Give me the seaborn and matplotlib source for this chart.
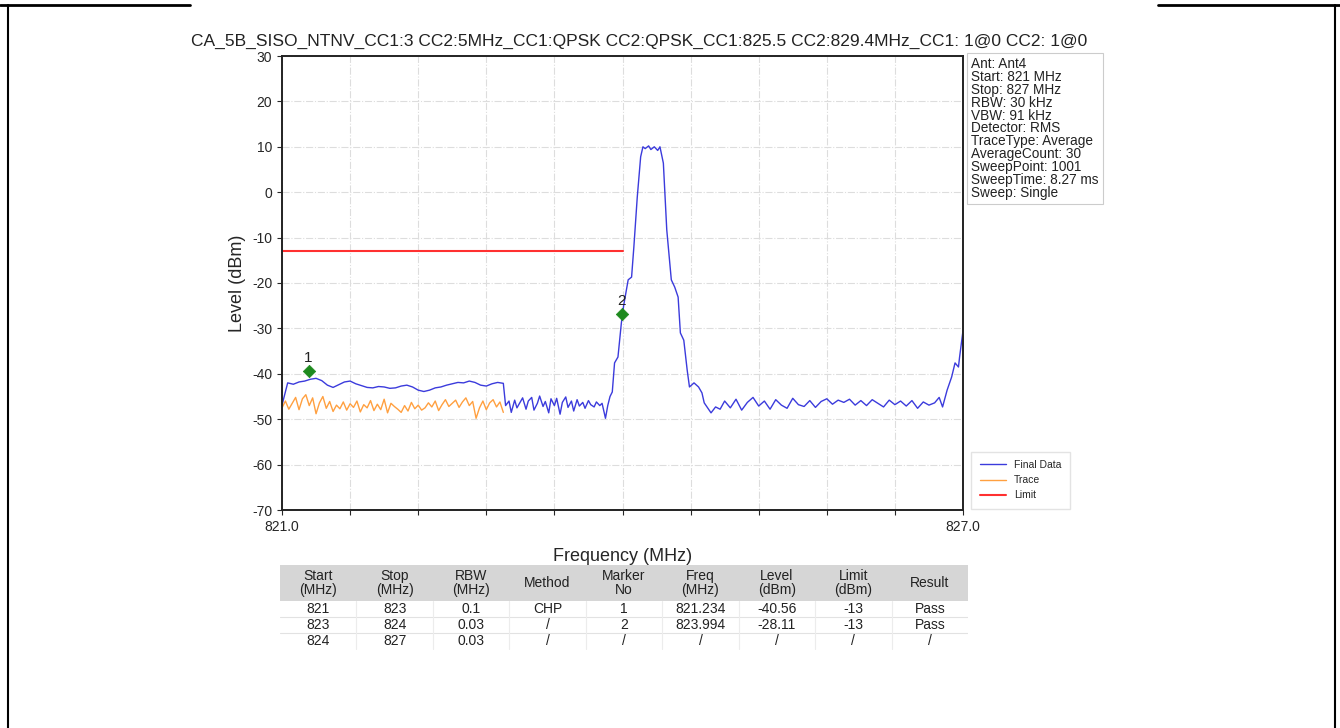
import numpy as np
import pandas as pd
import matplotlib
matplotlib.use("Agg")
import matplotlib.pyplot as plt
from matplotlib.lines import Line2D
from matplotlib.patches import Rectangle
import seaborn as sns

# ---- data ----
final_freq = [821.00, 821.03, 821.05, 821.10, 821.15, 821.20, 821.25, 821.30, 821.35, 821.40,
              821.45, 821.50, 821.55, 821.60, 821.65, 821.70, 821.75, 821.80, 821.85, 821.90,
              821.95, 822.00, 822.05, 822.10, 822.15, 822.20, 822.25, 822.30, 822.35, 822.40,
              822.45, 822.50, 822.55, 822.60, 822.65, 822.70, 822.75, 822.80, 822.85, 822.90,
              822.95, 822.97,
              823.00, 823.02, 823.05, 823.07, 823.10, 823.12, 823.15, 823.17, 823.20, 823.22,
              823.25, 823.27, 823.30, 823.32, 823.35, 823.37, 823.40, 823.42, 823.45, 823.47,
              823.50, 823.52, 823.55, 823.57, 823.60, 823.62, 823.65, 823.67, 823.70, 823.72,
              823.75, 823.77, 823.80, 823.82, 823.85, 823.87,
              823.89, 823.91, 823.93, 823.96, 823.99, 824.01, 824.03, 824.05, 824.08, 824.10,
              824.13, 824.16, 824.18, 824.20, 824.23, 824.25, 824.28, 824.31, 824.33, 824.36,
              824.39, 824.43, 824.46, 824.49, 824.51, 824.54, 824.57, 824.59, 824.63, 824.67,
              824.70, 824.72, 824.78, 824.82, 824.86,
              824.90, 824.95, 825.00, 825.05, 825.10, 825.15, 825.20, 825.25, 825.30, 825.35,
              825.40, 825.45, 825.50, 825.55, 825.60, 825.65, 825.70, 825.75, 825.80, 825.85,
              825.90, 825.95, 826.00, 826.05, 826.10, 826.15, 826.20, 826.25, 826.30, 826.35,
              826.40, 826.45, 826.50, 826.55, 826.60, 826.65, 826.70, 826.75, 826.79, 826.82,
              826.86, 826.90, 826.93, 826.96, 826.97, 827.00]
final_level = [-46.9, -44.0, -42.0, -42.3, -41.8, -41.6, -41.2, -41.0, -41.5, -42.5,
               -43.0, -42.4, -41.8, -41.6, -42.2, -42.6, -43.0, -43.1, -42.8, -42.9,
               -43.2, -43.1, -42.7, -42.5, -42.9, -43.6, -43.9, -43.6, -43.1, -42.9,
               -42.5, -42.2, -41.9, -42.0, -41.6, -41.9, -42.5, -42.7, -42.2, -41.9,
               -42.1, -47.0,
               -46.0, -48.5, -45.8, -47.5, -46.2, -45.3, -47.8, -46.0, -45.2, -48.0,
               -46.5, -44.9, -47.2, -46.1, -48.6, -45.5, -47.0, -45.4, -48.9, -46.3,
               -45.1, -47.4, -46.0, -48.2, -45.7, -47.1, -46.3, -47.6, -45.9, -46.8,
               -47.3, -46.2, -47.0, -46.5, -49.8, -47.0,
               -45.0, -44.0, -37.6, -36.3, -28.8, -25.0, -22.2, -19.3, -18.7, -12.1,
               -1.1, 7.8, 10.0, 9.6, 10.2, 9.4, 10.0, 9.2, 10.0, 6.4,
               -8.3, -19.3, -20.9, -23.1, -31.0, -32.6, -39.2, -42.9, -42.0, -42.9,
               -44.2, -46.4, -48.6, -47.3, -47.8,
               -46.0, -47.5, -45.6, -48.0, -46.3, -45.2, -47.1, -46.0, -47.8, -45.7,
               -46.9, -47.6, -45.4, -46.8, -47.2, -45.9, -47.4, -46.1, -45.5, -46.7,
               -45.8, -46.3, -45.6, -46.9, -45.9, -47.0, -45.7, -46.5, -47.3, -45.8,
               -46.8, -46.0, -47.1, -45.9, -47.6, -46.2, -46.9, -46.4, -45.2, -47.3,
               -43.6, -40.7, -37.6, -38.5, -36.3, -30.5]

trace_freq = [821.00, 821.03, 821.06, 821.09, 821.12, 821.15, 821.18, 821.21, 821.24, 821.27,
              821.30, 821.33, 821.36, 821.39, 821.42, 821.45, 821.48, 821.51, 821.54, 821.57,
              821.60, 821.63, 821.66, 821.69, 821.72, 821.75, 821.78, 821.81, 821.84, 821.87,
              821.90, 821.93, 821.96, 821.99, 822.02, 822.05, 822.08, 822.11, 822.14, 822.17,
              822.20, 822.23, 822.26, 822.29, 822.32, 822.35, 822.38, 822.41, 822.44, 822.47,
              822.50, 822.53, 822.56, 822.59, 822.62, 822.65, 822.68, 822.71, 822.74, 822.77,
              822.80, 822.83, 822.86, 822.89, 822.92, 822.95]
trace_level = [-47.5, -46.0, -47.8, -46.5, -45.2, -47.9, -45.5, -44.6, -47.0, -45.3,
               -48.8, -46.4, -45.0, -47.6, -46.1, -48.3, -46.9, -47.7, -46.2, -48.0,
               -46.6, -47.4, -46.0, -48.4, -46.8, -47.5, -45.9, -48.1, -46.7, -47.9,
               -45.6, -48.6, -46.5, -47.2, -47.8, -48.5, -47.0, -48.2, -46.3, -47.7,
               -46.9, -48.0, -47.5, -46.4, -47.3, -46.0, -48.1, -46.8, -45.7, -47.2,
               -46.5, -45.8, -47.4, -46.2, -45.3, -47.0, -46.1, -49.8, -47.5, -46.0,
               -47.9, -46.4, -45.7, -47.3, -46.2, -48.5]

limit_freq = [821.0, 824.0]
limit_level = [-13.0, -13.0]

marker_no = ["1", "2"]
marker_freq = [821.234, 823.994]
marker_level = [-39.3, -26.8]

title = ("CA_5B_SISO_NTNV_CC1:3 CC2:5MHz_CC1:QPSK CC2:QPSK_CC1:825.5 "
         "CC2:829.4MHz_CC1: 1@0 CC2: 1@0")

info_lines = ["Ant: Ant4", "Start: 821 MHz", "Stop: 827 MHz", "RBW: 30 kHz", "VBW: 91 kHz",
              "Detector: RMS", "TraceType: Average", "AverageCount: 30", "SweepPoint: 1001",
              "SweepTime: 8.27 ms", "Sweep: Single"]

table_header = ["Start\n(MHz)", "Stop\n(MHz)", "RBW\n(MHz)", "Method", "Marker\nNo",
                "Freq\n(MHz)", "Level\n(dBm)", "Limit\n(dBm)", "Result"]
table_rows = [["821", "823", "0.1", "CHP", "1", "821.234", "-40.56", "-13", "Pass"],
              ["823", "824", "0.03", "/", "2", "823.994", "-28.11", "-13", "Pass"],
              ["824", "827", "0.03", "/", "/", "/", "/", "/", "/"]]

# ---- figure ----
sns.set_style("ticks")
plt.rcParams['font.family'] = ['Liberation Sans', 'DejaVu Sans']
plt.rcParams['axes.unicode_minus'] = False

fig = plt.figure(figsize=(13.4, 7.28), dpi=100)
ax = fig.add_axes([282 / 1340, 1 - 510 / 728, (963 - 282) / 1340, (510 - 56) / 728])

final_df = pd.DataFrame({"freq": final_freq, "level": final_level})
trace_df = pd.DataFrame({"freq": trace_freq, "level": trace_level})
limit_df = pd.DataFrame({"freq": limit_freq, "level": limit_level})
marker_df = pd.DataFrame({"freq": marker_freq, "level": marker_level, "no": marker_no})

sns.lineplot(data=final_df, x="freq", y="level", ax=ax, color="#3b3bdc", lw=1.0,
             label="Final Data", sort=False)
sns.lineplot(data=trace_df, x="freq", y="level", ax=ax, color="#ffa040", lw=1.0,
             label="Trace", sort=False)
sns.lineplot(data=limit_df, x="freq", y="level", ax=ax, color="#ff3030", lw=1.5,
             label="Limit", sort=False)
sns.scatterplot(data=marker_df, x="freq", y="level", ax=ax, marker="D", s=40,
                color="#1e8a1e", edgecolor="#1e8a1e", zorder=5, legend=False)
for _, r in marker_df.iterrows():
    ax.text(r["freq"], r["level"] + 1.3, r["no"], ha="center", va="bottom", fontsize=11,
            color="#222222")

ax.set_xlim(821.0, 827.0)
ax.set_ylim(-70, 30)
xt = np.linspace(821.0, 827.0, 11)
ax.set_xticks(xt)
ax.set_xticklabels(["821.0"] + [""] * 9 + ["827.0"], fontsize=10)
ax.set_yticks(np.arange(-70, 31, 10))
ax.tick_params(axis="y", labelsize=10)
ax.grid(True, color="#dddddd", lw=0.8, ls="-.")
for s in ax.spines.values():
    s.set_visible(True)
    s.set_linewidth(1.4)
    s.set_color("#222222")
ax.set_xlabel("Frequency (MHz)", fontsize=13, labelpad=10)
ax.set_ylabel("Level (dBm)", fontsize=13)
fig.text(639 / 1340, 1 - 41 / 728, title, fontsize=12.5, ha="center", va="center",
         color="#222222")

leg = ax.get_legend()
leg.remove()
handles, labels = ax.get_legend_handles_labels()
fig.legend(handles[:3], labels[:3], loc="lower left", bbox_to_anchor=(966 / 1340, 1 - 514 / 728),
           fontsize=7.5, frameon=True, edgecolor="#dddddd", fancybox=False, handlelength=2.5,
           borderpad=0.8)

fig.text(971 / 1340, 1 - 57 / 728, "\n".join(info_lines), fontsize=9.8, va="top", ha="left",
         linespacing=0.9, color="#222222",
         bbox=dict(boxstyle="square,pad=0.3", facecolor="white", edgecolor="#cccccc", lw=0.8))

# ---- table ----
tab = fig.add_axes([280 / 1340, 1 - 650 / 728, (968 - 280) / 1340, (650 - 565) / 728])
tab.set_xlim(0, 9)
tab.set_ylim(85, 0)
tab.axis("off")
tab.add_patch(Rectangle((0, 0), 9, 36, facecolor="#d6d6d6", edgecolor="none"))
for i, h in enumerate(table_header):
    tab.text(i + 0.5, 18, h, ha="center", va="center", fontsize=10, linespacing=1.0,
             color="#222222")
for j, row in enumerate(table_rows):
    yc = 44 + j * 16
    for i, v in enumerate(row):
        tab.text(i + 0.5, yc, v, ha="center", va="center", fontsize=10, color="#222222")
    if j > 0:
        tab.plot([0, 9], [36 + j * 16, 36 + j * 16], color="#e2e2e2", lw=0.8)
for i in range(1, 9):
    tab.plot([i, i], [36, 84], color="#ececec", lw=0.8)

# ---- page frame lines ----
fig.add_artist(Line2D([0, 190 / 1340], [1 - 5 / 728] * 2, color="black", lw=2))
fig.add_artist(Line2D([1158 / 1340, 1], [1 - 5 / 728] * 2, color="black", lw=2))
fig.add_artist(Line2D([8 / 1340] * 2, [0, 1 - 5 / 728], color="black", lw=1.5))
fig.add_artist(Line2D([1335 / 1340] * 2, [0, 1 - 5 / 728], color="black", lw=1.5))

fig.savefig("out.png", dpi=100)
